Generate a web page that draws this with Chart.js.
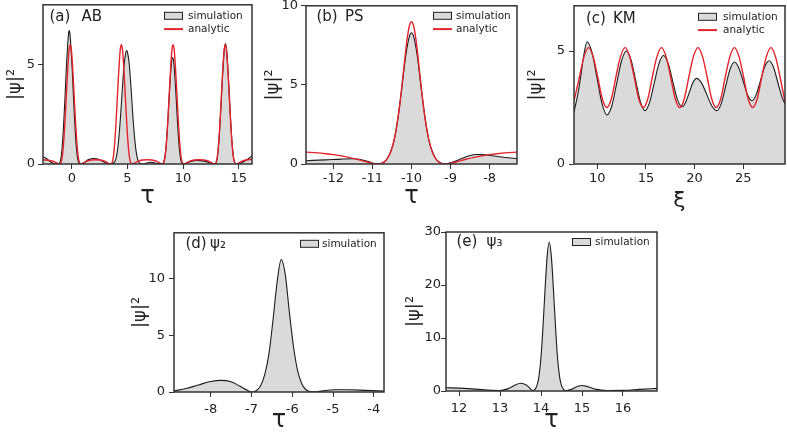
<!DOCTYPE html>
<html><head><meta charset="utf-8">
<script src="https://cdn.jsdelivr.net/npm/chart.js@4.4.1/dist/chart.umd.min.js"></script>
<style>
html,body{margin:0;padding:0;background:#fff;width:787px;height:434px;overflow:hidden;}
#wrap{position:relative;width:787px;height:434px;overflow:hidden;}
canvas{position:absolute;}
</style></head><body><div id="wrap">
<canvas id="pa"></canvas><canvas id="pb"></canvas><canvas id="pc"></canvas><canvas id="pd"></canvas><canvas id="pe"></canvas>
</div>
<script>
// ---------- (a) Akhmediev breather ----------
const abAnaTau = [-2.6,-2.1,-1.7,-1.35,-1.1,-0.95,-0.85,-0.75,-0.65,-0.55,-0.45,-0.35,-0.25,-0.15,-0.05,0.05,0.15,0.25,0.35,0.45,0.55,0.65,0.8,1.05,1.35,1.75,2.15,2.55,2.95,3.25,3.5,3.65,3.75,3.85,3.95,4.05,4.15,4.25,4.35,4.45,4.55,4.65,4.75,4.85,4.95,5.05,5.15,5.25,5.4,5.65,5.95,6.35,6.78,7.2,7.6,7.9,8.15,8.3,8.4,8.5,8.6,8.7,8.8,8.9,9.0,9.1,9.2,9.3,9.4,9.5,9.6,9.7,9.8,9.9,10.05,10.3,10.6,11.0,11.45,11.9,12.3,12.6,12.85,13.0,13.1,13.2,13.3,13.4,13.5,13.6,13.7,13.8,13.9,14.0,14.1,14.2,14.3,14.4,14.5,14.6,14.75,15.0,15.3,15.7,16.2];
const abAnalytic = [0.2,0.19,0.14,0.05,0.0,0.13,0.45,1.05,1.9,2.9,4.0,5.0,5.75,6.0,5.75,5.0,4.0,2.9,1.9,1.05,0.45,0.13,0.0,0.05,0.14,0.2,0.21,0.2,0.14,0.05,0.0,0.13,0.45,1.05,1.9,2.9,4.0,5.0,5.75,6.0,5.75,5.0,4.0,2.9,1.9,1.05,0.45,0.13,0.0,0.05,0.14,0.2,0.21,0.2,0.14,0.05,0.0,0.13,0.45,1.05,1.9,2.9,4.0,5.0,5.75,6.0,5.75,5.0,4.0,2.9,1.9,1.05,0.45,0.13,0.0,0.05,0.14,0.2,0.21,0.2,0.14,0.05,0.0,0.13,0.45,1.05,1.9,2.9,4.0,5.0,5.75,6.0,5.75,5.0,4.0,2.9,1.9,1.05,0.45,0.13,0.0,0.05,0.14,0.2,0.24];
const abSimTau = [-2.6,-2.3,-2.0,-1.7,-1.4,-1.15,-1.0,-0.9,-0.8,-0.7,-0.6,-0.5,-0.4,-0.32,-0.24,-0.16,-0.08,0.02,0.12,0.22,0.32,0.42,0.52,0.65,0.8,1.1,1.5,1.95,2.4,2.8,3.15,3.45,3.75,3.95,4.1,4.25,4.4,4.55,4.7,4.82,4.93,5.04,5.16,5.31,5.46,5.61,5.76,5.91,6.1,6.35,6.7,7.05,7.4,7.8,8.1,8.3,8.45,8.55,8.65,8.75,8.86,8.96,9.06,9.16,9.26,9.37,9.47,9.57,9.67,9.8,10.0,10.3,10.7,11.2,11.6,12.1,12.5,12.85,13.01,13.11,13.21,13.31,13.41,13.51,13.61,13.71,13.81,13.91,14.01,14.11,14.21,14.31,14.41,14.51,14.61,14.8,15.1,15.4,15.7,16.0,16.2];
const abSimulation = [0.37,0.28,0.14,0.04,0.0,0.02,0.25,0.7,1.45,2.45,3.6,4.85,5.8,6.45,6.7,6.45,5.8,4.85,3.6,2.45,1.45,0.7,0.25,0.02,0.0,0.08,0.22,0.28,0.24,0.13,0.03,0.0,0.05,0.25,0.7,1.5,2.6,3.9,5.0,5.5,5.7,5.5,5.0,3.9,2.6,1.5,0.7,0.25,0.04,0.0,0.05,0.09,0.06,0.01,0.0,0.2,0.75,1.45,2.35,3.4,4.4,5.1,5.35,5.1,4.4,3.4,2.35,1.45,0.75,0.2,0.0,0.04,0.13,0.18,0.17,0.12,0.04,0.0,0.13,0.45,1.05,1.9,2.9,4.0,5.0,5.75,6.05,5.75,5.0,4.0,2.9,1.9,1.05,0.45,0.13,0.0,0.03,0.1,0.2,0.32,0.42];

// ---------- (b) Peregrine soliton ----------
const psAnaTau = [-12.7,-12.4,-12.2,-12.0,-11.8,-11.6,-11.4,-11.2,-11.0,-10.9,-10.8,-10.7,-10.6,-10.5,-10.4,-10.3,-10.25,-10.2,-10.15,-10.1,-10.05,-10.0,-9.95,-9.9,-9.85,-9.8,-9.75,-9.7,-9.6,-9.5,-9.4,-9.3,-9.2,-9.1,-9.0,-8.8,-8.6,-8.4,-8.2,-8.0,-7.8,-7.6,-7.3];
const psAnalytic = [0.75,0.70,0.65,0.59,0.51,0.42,0.30,0.17,0.04,0.0,0.02,0.12,0.41,1.0,2.07,3.77,4.84,5.99,7.13,8.10,8.77,9.0,8.77,8.10,7.13,5.99,4.84,3.77,2.07,1.0,0.41,0.12,0.02,0.0,0.04,0.17,0.30,0.42,0.51,0.59,0.65,0.70,0.75];
const psSimTau = [-12.7,-12.2,-11.8,-11.5,-11.3,-11.1,-10.95,-10.85,-10.75,-10.65,-10.55,-10.45,-10.35,-10.25,-10.15,-10.05,-10.0,-9.95,-9.85,-9.75,-9.65,-9.55,-9.45,-9.35,-9.25,-9.15,-9.05,-8.9,-8.7,-8.5,-8.35,-8.2,-8.0,-7.8,-7.6,-7.3];
const psSimulation = [0.21,0.26,0.31,0.33,0.28,0.15,0.03,0.0,0.06,0.25,0.68,1.45,2.85,4.75,6.8,8.1,8.3,8.1,6.8,4.75,2.85,1.45,0.68,0.25,0.06,0.0,0.04,0.15,0.36,0.54,0.6,0.59,0.54,0.47,0.41,0.34];

// ---------- (c) Kuznetsov-Ma ----------
const kmAnaXi = [7.6,8.16,8.63,9.1,9.57,10.04,10.5,10.975,11.45,11.91,12.38,12.85,13.32,13.79,14.25,14.725,15.2,15.66,16.13,16.6,17.07,17.54,18.0,18.475,18.95,19.41,19.88,20.35,20.82,21.29,21.75,22.225,22.7,23.16,23.63,24.1,24.57,25.04,25.5,25.975,26.45,26.91,27.38,27.85,28.32,28.79,29.3];
const kmAnalytic = [2.78,3.85,4.75,5.15,4.75,3.85,2.9,2.5,2.9,3.85,4.75,5.15,4.75,3.85,2.9,2.5,2.9,3.85,4.75,5.15,4.75,3.85,2.9,2.5,2.9,3.85,4.75,5.15,4.75,3.85,2.9,2.5,2.9,3.85,4.75,5.15,4.75,3.85,2.9,2.5,2.9,3.85,4.75,5.15,4.75,3.85,2.75];
const kmSimXi = [7.6,8.0,8.3,8.6,8.95,9.46,9.975,10.49,11.0,11.5,12.0,12.5,13.0,13.475,13.95,14.425,14.9,15.375,15.85,16.325,16.8,17.275,17.75,18.225,18.7,19.075,19.45,19.825,20.2,20.725,21.25,21.775,22.3,22.75,23.2,23.65,24.1,24.55,25.0,25.45,25.9,26.34,26.78,27.21,27.65,28.1,28.6,29.0,29.3];
const kmSimulation = [2.3,3.1,3.9,4.8,5.41,4.92,3.79,2.66,2.17,2.59,3.59,4.58,5.0,4.6,3.68,2.76,2.36,2.73,3.58,4.43,4.8,4.46,3.67,2.87,2.53,2.72,3.16,3.6,3.79,3.58,3.08,2.57,2.36,2.68,3.44,4.19,4.51,4.25,3.66,3.06,2.8,3.07,3.69,4.3,4.57,4.3,3.55,2.95,2.66];

// ---------- (d) psi_2 ----------
const psi2Tau = [-8.9,-8.6,-8.3,-8.0,-7.75,-7.5,-7.3,-7.1,-6.97,-6.87,-6.77,-6.67,-6.57,-6.47,-6.37,-6.27,-6.17,-6.07,-5.97,-5.87,-5.77,-5.67,-5.57,-5.45,-5.2,-5.0,-4.6,-4.2,-3.75];
const psi2Simulation = [0.1,0.3,0.62,0.92,1.02,0.9,0.55,0.15,0.0,0.15,0.6,1.6,3.4,6.4,9.7,11.65,10.3,7.0,4.0,1.9,0.75,0.22,0.04,0.02,0.12,0.2,0.2,0.14,0.08];

// ---------- (e) psi_3 ----------
const psi3Tau = [11.68,12.0,12.4,12.8,13.0,13.2,13.35,13.5,13.65,13.8,13.85,13.9,13.95,14.0,14.05,14.1,14.15,14.2,14.25,14.3,14.35,14.4,14.45,14.5,14.55,14.6,14.75,14.9,15.0,15.15,15.35,15.6,16.0,16.4,16.83];
const psi3Simulation = [0.6,0.55,0.35,0.12,0.1,0.45,1.05,1.45,1.1,0.1,0.3,1.0,2.8,6.5,12.5,19.5,25.5,28.1,25.5,19.5,12.5,6.5,2.8,1.0,0.3,0.05,0.35,0.9,1.05,0.8,0.3,0.1,0.12,0.3,0.5];

// ---------- labels ----------
const seriesLabels = ['simulation', 'analytic'];
const yTitle = '|\u03C8|\u00B2';
const panelTags = ['(a)', '(b)', '(c)', '(d)', '(e)'];
const panelNames = ['AB', 'PS', 'KM', '\u03C8\u2082', '\u03C8\u2083'];

const FONT = "'DejaVu Sans', 'Open Sans', sans-serif";
Chart.defaults.font.family = FONT;
Chart.defaults.color = '#222';

function pts(xs, ys) { return xs.map((x, i) => ({x: x, y: ys[i]})); }
function simSet(xs, ys) {
  return {label: seriesLabels[0], data: pts(xs, ys), fill: 'origin', backgroundColor: '#dadada',
    borderColor: '#1c1c1c', borderWidth: 1.1, pointRadius: 0, cubicInterpolationMode: 'monotone', order: 2};
}
function anaSet(xs, ys) {
  return {label: seriesLabels[1], data: pts(xs, ys), fill: false, borderColor: '#e3222b',
    borderWidth: 1.4, pointRadius: 0, cubicInterpolationMode: 'monotone', order: 1};
}

const panelPlugin = {
  id: 'panel',
  afterDraw(chart, args, o) {
    const ctx = chart.ctx, a = chart.chartArea;
    ctx.save();
    ctx.strokeStyle = '#333'; ctx.lineWidth = 1.5;
    ctx.strokeRect(a.left, a.top, a.right - a.left, a.bottom - a.top);
    ctx.fillStyle = '#222'; ctx.textBaseline = 'middle'; ctx.textAlign = 'left';
    ctx.font = "15px " + FONT;
    ctx.fillText(o.tag, a.left + o.tagDx, a.top + o.tagDy);
    ctx.fillText(o.name, a.left + o.nameDx, a.top + o.tagDy);
    ctx.font = o.legFont + "px " + FONT;
    chart.data.datasets.forEach((ds, i) => {
      const cy = a.top + o.legDy + i * 13.3;
      const bx = a.right - o.legBox;
      if (ds.fill) {
        ctx.fillStyle = ds.backgroundColor; ctx.fillRect(bx, cy - 3.5, 19, 7);
        ctx.strokeStyle = '#222'; ctx.lineWidth = 1; ctx.strokeRect(bx + 0.5, cy - 3.5, 18, 7);
      } else {
        ctx.strokeStyle = ds.borderColor; ctx.lineWidth = 2;
        ctx.beginPath(); ctx.moveTo(bx, cy); ctx.lineTo(bx + 19, cy); ctx.stroke();
      }
      ctx.fillStyle = '#222';
      ctx.fillText(ds.label, a.right - o.legText, cy);
    });
    ctx.restore();
  }
};

function makePanel(id, s) {
  const ySize = 18, xSize = s.xSize;
  const yW = Math.ceil(s.L - s.tx + ySize / 2 + 2);
  const xH = Math.ceil(s.tyc + xSize / 2 + 3 - s.B);
  const padT = 10, padR = 6;
  const left = s.L - yW, top = s.T - padT;
  const w = s.R + padR - left, h = s.B + xH - top;
  const cv = document.getElementById(id);
  cv.width = w; cv.height = h;
  cv.style.left = left + 'px'; cv.style.top = top + 'px';
  cv.style.width = w + 'px'; cv.style.height = h + 'px';
  const tickFont = {size: 13};
  new Chart(cv, {
    type: 'line',
    data: {datasets: s.datasets},
    options: {
      responsive: false, animation: false, devicePixelRatio: 1,
      layout: {padding: {left: 0, top: padT, right: padR, bottom: 0}},
      events: [],
      plugins: {legend: {display: false}, tooltip: {enabled: false}, panel: s.panel},
      scales: {
        x: {
          type: 'linear', min: s.xmin, max: s.xmax,
          afterFit(sc) { sc.height = xH; },
          ticks: {stepSize: s.xstep, includeBounds: false, font: tickFont, color: '#222', padding: s.xPad, maxRotation: 0,
            callback: v => String(v)},
          grid: {drawOnChartArea: false, drawTicks: true, tickLength: 5, color: '#333', lineWidth: 1},
          border: {display: false},
          title: {display: true, text: s.xTitle, color: '#222', font: {size: xSize, lineHeight: 1},
            padding: {top: 0, bottom: s.B + xH - s.tyc - xSize / 2}}
        },
        y: {
          type: 'linear', min: s.ymin, max: s.ymax,
          afterFit(sc) { sc.width = yW; },
          ticks: {stepSize: s.ystep, includeBounds: false, font: tickFont, color: '#222', padding: s.yPad,
            callback: v => String(v)},
          grid: {drawOnChartArea: false, drawTicks: true, tickLength: 5, color: '#333', lineWidth: 1},
          border: {display: false},
          title: {display: true, text: yTitle, color: '#222', font: {size: ySize, lineHeight: 1},
            padding: {top: s.tx - left - ySize / 2, bottom: 0}}
        }
      }
    },
    plugins: [panelPlugin]
  });
}

makePanel('pa', {L: 43, T: 4, R: 252, B: 164, xmin: -2.6, xmax: 16.2, xstep: 5, ymin: 0, ymax: 8, ystep: 5,
  xTitle: '\u03C4', xSize: 24, tx: 15, tyc: 197, xPad: 2, yPad: 3,
  datasets: [simSet(abSimTau, abSimulation), anaSet(abAnaTau, abAnalytic)],
  panel: {tag: panelTags[0], name: panelNames[0], tagDx: 6.5, nameDx: 38.5, tagDy: 12, legBox: 88, legText: 64, legDy: 11, legFont: 10.5}});

makePanel('pb', {L: 306, T: 5, R: 517, B: 164, xmin: -12.7, xmax: -7.3, xstep: 1, ymin: 0, ymax: 10, ystep: 5,
  xTitle: '\u03C4', xSize: 24, tx: 273, tyc: 197, xPad: 2, yPad: 3,
  datasets: [simSet(psSimTau, psSimulation), anaSet(psAnaTau, psAnalytic)],
  panel: {tag: panelTags[1], name: panelNames[1], tagDx: 10.5, nameDx: 39, tagDy: 11, legBox: 84, legText: 61, legDy: 10, legFont: 10.5}});

makePanel('pc', {L: 574, T: 4, R: 785, B: 164, xmin: 7.6, xmax: 29.3, xstep: 5, ymin: 0, ymax: 7, ystep: 5,
  xTitle: '\u03BE', xSize: 22, tx: 536, tyc: 201, xPad: 2, yPad: 4,
  datasets: [simSet(kmSimXi, kmSimulation), anaSet(kmAnaXi, kmAnalytic)],
  panel: {tag: panelTags[2], name: panelNames[2], tagDx: 12, nameDx: 39, tagDy: 13, legBox: 87, legText: 62, legDy: 11, legFont: 10.5}});

makePanel('pd', {L: 174, T: 231, R: 384, B: 392, xmin: -8.9, xmax: -3.75, xstep: 1, ymin: 0, ymax: 14, ystep: 5,
  xTitle: '\u03C4', xSize: 24, tx: 140, tyc: 421, xPad: 5, yPad: 4,
  datasets: [simSet(psi2Tau, psi2Simulation)],
  panel: {tag: panelTags[3], name: panelNames[3], tagDx: 11.5, nameDx: 36, tagDy: 11, legBox: 84, legText: 62, legDy: 11, legFont: 10.5}});

makePanel('pe', {L: 446, T: 232, R: 657, B: 391, xmin: 11.68, xmax: 16.83, xstep: 1, ymin: 0, ymax: 30, ystep: 10,
  xTitle: '\u03C4', xSize: 24, tx: 414, tyc: 421, xPad: 5, yPad: 0,
  datasets: [simSet(psi3Tau, psi3Simulation)],
  panel: {tag: panelTags[4], name: panelNames[4], tagDx: 10.5, nameDx: 40.5, tagDy: 10, legBox: 85, legText: 62, legDy: 10, legFont: 10.5}});
</script>
</body></html>
